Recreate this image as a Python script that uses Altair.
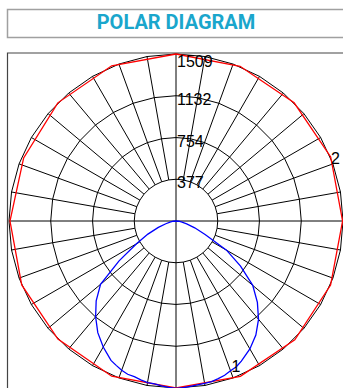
import altair as alt
import numpy as np
import pandas as pd

# Polar intensity diagram (cd). Gamma is measured from nadir, positive to the right.
ring_values = [377, 754, 1132, 1509]
ring_labels = ["377", "754", "1132", "1509"]

# Curve 1 (blue)
c1_gamma = [-90, -85, -80, -75, -70, -65, -60, -55, -50, -45, -40, -35, -30, -25,
            -22.5, -20, -17.5, -15, -12.5, -10, -7.5, -5, -2.5, 0, 2.5, 5, 7.5,
            10, 12.5, 15, 17.5, 20, 22.5, 25, 30, 35, 40, 45, 50, 55, 60,
            65, 70, 75, 80, 85, 90]
c1_cd = [0, 25, 55, 95, 170, 280, 412, 628, 890, 1020, 1130, 1232, 1315, 1390,
         1412, 1435, 1452, 1456, 1470, 1482, 1484, 1495, 1505, 1512, 1508, 1500,
         1494, 1490, 1486, 1475, 1462, 1440, 1425, 1397, 1335, 1258,
         1160, 1040, 905, 712, 527, 290, 180, 100, 55, 25, 0]

# Curve 2 (red)
c2_gamma = [0, 22.5, 45, 67.5, 90, 112.5, 135, 157.5, 180, 202.5, 225, 247.5,
            270, 292.5, 315, 337.5, 360]
c2_cd = [1509, 1520, 1518, 1512, 1505, 1513, 1510, 1513, 1509, 1518, 1510,
         1490, 1500, 1509, 1509, 1518, 1509]

curve_tags = ["1", "2"]

# layout of the drawing (pixels)
W, H = 343, 388
CX, CY = 176, 221
R_PX = 167
k = R_PX / ring_values[-1]
label_shift = [4, 4, 4, 8]

xs = alt.Scale(domain=[-CX / k, (W - CX) / k], nice=False, zero=False)
ys = alt.Scale(domain=[-(H - CY) / k, CY / k], nice=False, zero=False)


def to_xy(gamma, r):
    g = np.radians(np.asarray(gamma, dtype=float))
    r = np.asarray(r, dtype=float)
    return r * np.sin(g), -r * np.cos(g)


# rings as 36-sided polygons
rows = []
for rv in ring_values:
    gs = np.arange(0, 361, 10)
    x, y = to_xy(gs, np.full(len(gs), rv))
    for i in range(len(gs)):
        rows.append({"ring": rv, "i": i, "x": x[i], "y": y[i]})
rings = pd.DataFrame(rows)

# spokes every 10 degrees; the four axes run through the centre
srows = []
for g in range(0, 360, 10):
    r0 = 0 if g % 90 == 0 else ring_values[0]
    x0, y0 = to_xy([g], [r0])
    x1, y1 = to_xy([g], [ring_values[-1]])
    srows.append({"x": x0[0], "y": y0[0], "x2": x1[0], "y2": y1[0]})
spokes = pd.DataFrame(srows)

x1c, y1c = to_xy(c1_gamma, c1_cd)
curve1 = pd.DataFrame({"i": range(len(c1_gamma)), "x": x1c, "y": y1c})
x2c, y2c = to_xy(c2_gamma, c2_cd)
curve2 = pd.DataFrame({"i": range(len(c2_gamma)), "x": x2c, "y": y2c})

X = lambda: alt.X("x:Q", scale=xs, axis=None)
Y = lambda: alt.Y("y:Q", scale=ys, axis=None)

ring_layer = alt.Chart(rings).mark_line(color="black", strokeWidth=1).encode(
    x=X(), y=Y(), detail="ring:N", order="i:Q")
spoke_layer = alt.Chart(spokes).mark_rule(color="black", strokeWidth=1).encode(
    x=X(), y=Y(), x2="x2:Q", y2="y2:Q")
c1_layer = alt.Chart(curve1).mark_line(color="#0000ff", strokeWidth=1.3).encode(
    x=X(), y=Y(), order="i:Q")
c2_layer = alt.Chart(curve2).mark_line(color="#ff0000", strokeWidth=1.3).encode(
    x=X(), y=Y(), order="i:Q")

# ring value labels, just right of the vertical axis
label_layers = []
for rv, txt, off in zip(ring_values, ring_labels, label_shift):
    df = pd.DataFrame({"x": [0.0], "y": [rv], "t": [txt]})
    label_layers.append(alt.Chart(df).mark_text(
        align="left", baseline="middle", dx=1, dy=off, fontSize=16,
        font="Liberation Sans", color="black").encode(x=X(), y=Y(), text="t:N"))

tags = pd.DataFrame({"t": curve_tags, "g": [22, 112], "r": [1400, 1535]})
tx, ty = to_xy(tags["g"], tags["r"])
tags["x"], tags["y"] = tx, ty
tag_layer = alt.Chart(tags).mark_text(
    align="center", baseline="middle", fontSize=16, font="Liberation Sans",
    color="black", dx=2, dy=2).encode(x=X(), y=Y(), text="t:N")

frame = alt.Chart(pd.DataFrame({"a": [0]})).mark_rect(
    filled=False, stroke="#444444", strokeWidth=1.2).encode(
    x=alt.value(7.5), x2=alt.value(400), y=alt.value(53), y2=alt.value(450))

title_box = alt.Chart(pd.DataFrame({"a": [0]})).mark_rect(
    filled=False, stroke="#a0a0a0", strokeWidth=1.5).encode(
    x=alt.value(7.5), x2=alt.value(400), y=alt.value(9.5), y2=alt.value(37.5))

title_text = alt.Chart(pd.DataFrame({"t": ["POLAR DIAGRAM"]})).mark_text(
    align="center", baseline="middle", fontSize=20, font="Roboto",
    fontWeight="bold", color="#1aa6cc").encode(
    x=alt.value(176), y=alt.value(23), text="t:N")

chart = alt.layer(
    title_box, title_text, frame, ring_layer, spoke_layer, c2_layer, c1_layer,
    *label_layers, tag_layer
).properties(width=W, height=H, padding=0, autosize="none").configure_view(
    strokeWidth=0)

chart.save("out.html", embed_options={"renderer": "svg", "actions": False})
